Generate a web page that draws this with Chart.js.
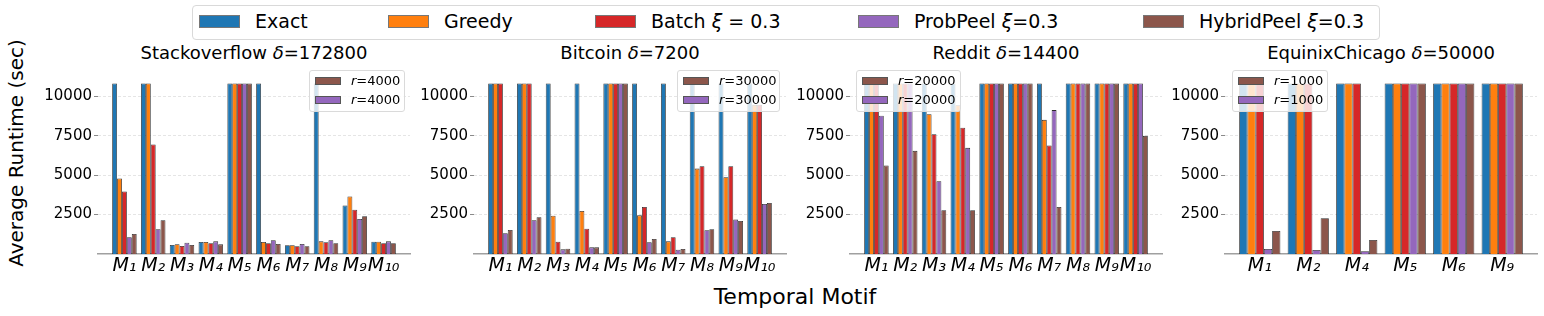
<!DOCTYPE html>
<html>
<head>
<meta charset="utf-8">
<script src="https://cdn.jsdelivr.net/npm/chart.js@4.4.1/dist/chart.umd.min.js"></script>
<style>
  html, body { margin:0; padding:0; background:#fff; }
  body { width:1544px; height:316px; position:relative; overflow:hidden; font-family:'DejaVu Sans', sans-serif; color:#000; }
  .abs { position:absolute; }
  canvas.panel { position:absolute; }
  .mainlegend { position:absolute; left:192px; top:5px; width:1188px; height:35px; box-sizing:border-box; border:1px solid #d9d9d9; border-radius:4px; background:#fff; }
  .mpatch { position:absolute; top:9px; width:41px; height:13px; box-sizing:border-box; border:1px solid #777; }
  .mtext { position:absolute; top:3px; font-size:19px; line-height:24px; white-space:nowrap; }
  .title { position:absolute; top:42px; width:312px; text-align:center; font-size:18px; line-height:22px; white-space:nowrap; }
  .sub { position:absolute; top:70px; height:42px; box-sizing:border-box; border:1px solid #dadada; border-radius:3px; background:rgba(255,255,255,0.8); z-index:5; }
  .spatch { position:absolute; left:5px; width:26px; height:8px; box-sizing:border-box; border:1px solid #555; }
  .stext { position:absolute; left:41px; font-size:13px; line-height:16px; white-space:nowrap; }
</style>
</head>
<body>
<script>
// ---------------- data ----------------
const methods = ['Exact', 'Greedy', 'Batch', 'ProbPeel', 'HybridPeel'];
const colors  = ['#1f77b4', '#ff7f0e', '#d62728', '#9467bd', '#8c564b'];
const yTicks  = [2500, 5000, 7500, 10000];
const yMax    = 11340;

const stackCats   = ['M₁','M₂','M₃','M₄','M₅','M₆','M₇','M₈','M₉','M₁₀'];
const stackExact  = [10800,10800,570,760,10800,10800,550,10800,3070,780];
const stackGreedy = [4780,10800,615,760,10800,760,550,800,3640,780];
const stackBatch  = [3955,6940,510,680,10800,680,490,740,2810,680];
const stackProb   = [1060,1565,720,800,10800,870,630,870,2220,800];
const stackHybrid = [1270,2135,570,610,10800,630,490,680,2390,680];

const btcCats   = ['M₁','M₂','M₃','M₄','M₅','M₆','M₇','M₈','M₉','M₁₀'];
const btcExact  = [10800,10800,10800,10800,10800,10800,10800,10800,10800,10800];
const btcGreedy = [10800,10800,2430,2730,10800,2450,800,5410,4865,9450];
const btcBatch  = [10800,10800,780,1605,10800,2980,1060,5560,5560,9450];
const btcProb   = [1310,2135,295,420,10800,740,275,1500,2180,3170];
const btcHybrid = [1525,2330,340,420,10800,950,315,1565,2095,3235];

const redCats   = ['M₁','M₂','M₃','M₄','M₅','M₆','M₇','M₈','M₉','M₁₀'];
const redExact  = [10800,10800,10800,10800,10800,10800,10800,10800,10800,10800];
const redGreedy = [10800,10800,8860,9430,10800,10800,8500,10800,10800,10800];
const redBatch  = [10800,10800,7590,7995,10800,10800,6875,10800,10800,10800];
const redProb   = [8755,10800,4610,6725,10800,10800,9115,10800,10800,10800];
const redHybrid = [5605,6535,2770,2770,10800,10800,2980,10800,10800,7485];

const eqCats   = ['M₁','M₂','M₄','M₅','M₆','M₉'];
const eqExact  = [10800,10800,10800,10800,10800,10800];
const eqGreedy = [10800,10800,10800,10800,10800,10800];
const eqBatch  = [10800,10800,10800,10800,10800,10800];
const eqProb   = [315,255,170,10800,10800,10800];
const eqHybrid = [1460,2265,890,10800,10800,10800];

const titles  = ['Stackoverflow', 'Bitcoin', 'Reddit', 'EquinixChicago'];
const deltas  = ['172800', '7200', '14400', '50000'];
const rValues = ['4000', '30000', '20000', '1000'];

// ---------------- layout ----------------
const axisLefts = [98, 474, 850, 1225];
const axisW = 312;
const yAxisW = 70;
const canvasTop = 70, canvasH = 246;
const legendBoxes = [[309, 96], [677, 103], [856, 105], [1232, 96]];

const panels = [
  [stackCats, [stackExact, stackGreedy, stackBatch, stackProb, stackHybrid]],
  [btcCats,   [btcExact, btcGreedy, btcBatch, btcProb, btcHybrid]],
  [redCats,   [redExact, redGreedy, redBatch, redProb, redHybrid]],
  [eqCats,    [eqExact, eqGreedy, eqBatch, eqProb, eqHybrid]]
];

const FONT = "'DejaVu Sans', sans-serif";

function el(tag, cls, parent) { const e = document.createElement(tag); if (cls) e.className = cls; (parent || document.body).appendChild(e); return e; }

// main legend
const mainLegend = el('div', 'mainlegend');
const legendLabels = ['Exact', 'Greedy', 'Batch <i>ξ</i> = 0.3', 'ProbPeel <i>ξ</i>=0.3', 'HybridPeel <i>ξ</i>=0.3'];
const patchX = [199, 388, 595, 858, 1143];
legendLabels.forEach((t, i) => {
  const p = el('div', 'mpatch', mainLegend);
  p.style.left = (patchX[i] - 192 - 1) + 'px';
  p.style.background = colors[i];
  const s = el('div', 'mtext', mainLegend);
  s.style.left = (patchX[i] - 192 - 1 + 56) + 'px';
  s.innerHTML = t;
});

// axis labels
const yl = el('div', 'abs');
yl.textContent = 'Average Runtime (sec)';
Object.assign(yl.style, { left: (16 - 150) + 'px', top: (153 - 12) + 'px', width: '300px', height: '24px', lineHeight: '24px', textAlign: 'center', fontSize: '20px', transform: 'rotate(-90deg)', whiteSpace: 'nowrap' });
const xl = el('div', 'abs');
xl.textContent = 'Temporal Motif';
Object.assign(xl.style, { left: (795 - 150) + 'px', top: (297 - 14) + 'px', width: '300px', height: '28px', lineHeight: '28px', textAlign: 'center', fontSize: '22px', whiteSpace: 'nowrap' });

panels.forEach(([cats, series], pi) => {
  const left = axisLefts[pi];
  // title
  const t = el('div', 'title');
  t.style.left = left + 'px';
  t.innerHTML = titles[pi] + ' <i>δ</i>=' + deltas[pi];
  // sub legend
  const [lx, lw] = legendBoxes[pi];
  const sb = el('div', 'sub');
  sb.style.left = lx + 'px'; sb.style.width = lw + 'px';
  [[4, 7], [3, 26]].forEach(([si, off]) => {
    const p = el('div', 'spatch', sb);
    p.style.top = (off - 1) + 'px';
    p.style.background = colors[si];
    const s = el('div', 'stext', sb);
    s.style.top = (off - 5) + 'px';
    s.innerHTML = '<i>r</i>=' + rValues[pi];
  });
  // canvas
  const c = el('canvas', 'panel');
  const cw = yAxisW + axisW + 4;
  c.width = cw; c.height = canvasH;
  c.style.left = (left - yAxisW) + 'px';
  c.style.top = canvasTop + 'px';
  c.style.width = cw + 'px'; c.style.height = canvasH + 'px';

  const n = cats.length;
  const R = (n - 1) + 0.85;
  const xmin = -0.425 - 0.05 * R, xmax = (n - 1) + 0.425 + 0.05 * R;

  new Chart(c, {
    type: 'bar',
    data: {
      datasets: series.map((vals, si) => ({
        label: methods[si],
        data: vals.map((v, i) => ({ x: i, y: v })),
        backgroundColor: colors[si],
        borderColor: 'rgba(20,20,20,0.9)',
        borderWidth: 0.8,
        categoryPercentage: 0.85,
        barPercentage: 1.0
      }))
    },
    options: {
      responsive: false,
      animation: false,
      devicePixelRatio: 1,
      layout: { padding: { top: 5, right: 4, left: 0, bottom: 0 } },
      plugins: { legend: { display: false }, tooltip: { enabled: false }, title: { display: false } },
      scales: {
        x: {
          type: 'linear',
          min: xmin, max: xmax,
          offset: false,
          afterFit: (s) => { s.height = 62; s.paddingLeft = 0; s.paddingRight = 0; },
          afterBuildTicks: (s) => { s.ticks = cats.map((_, i) => ({ value: i })); },
          ticks: {
            autoSkip: false, maxRotation: 0, minRotation: 0, padding: 1,
            font: { family: FONT, size: 19, style: 'italic' }, color: '#000',
            callback: (v) => cats[v]
          },
          grid: { display: false, drawTicks: false },
          border: { display: true, color: '#a0a0a0', width: 1.6 }
        },
        y: {
          min: 0, max: yMax,
          afterFit: (s) => { s.width = yAxisW; s.paddingTop = 0; s.paddingBottom = 0; },
          afterBuildTicks: (s) => { s.ticks = yTicks.map(v => ({ value: v })); },
          ticks: { font: { family: FONT, size: 15 }, color: '#000', padding: 2, callback: (v) => String(v) },
          grid: { display: true, drawOnChartArea: true, drawTicks: true, tickLength: 4, tickColor: '#8a8a8a', tickWidth: 1, tickBorderDash: [], color: 'rgba(0,0,0,0.13)', lineWidth: 0.8 },
          border: { display: false, dash: [3, 2] }
        }
      }
    }
  });
});
</script>
</body>
</html>
